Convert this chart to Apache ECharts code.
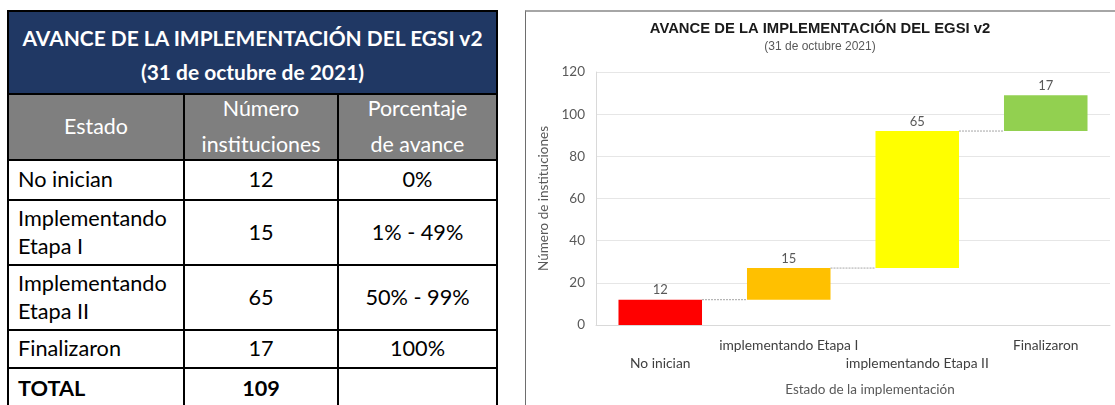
<!DOCTYPE html>
<html>
<head>
<meta charset="utf-8">
<script src="https://cdn.jsdelivr.net/npm/echarts/dist/echarts.min.js"></script>
<style>
html,body{margin:0;padding:0;width:1115px;height:405px;overflow:hidden;background:#fff;}
#tbl{position:absolute;left:0;top:0;width:1115px;height:405px;font-family:Lato,'Open Sans',sans-serif;color:#000;z-index:1;}
.cell{position:absolute;box-sizing:border-box;border:2px solid #000;display:flex;align-items:center;justify-content:center;text-align:center;white-space:nowrap;overflow:visible;}
.cell.l{justify-content:flex-start;text-align:left;padding-left:9px;}
.cell.ttl{background:#203864;color:#fff;font-weight:bold;line-height:32px;padding-top:6px;}
.cell.hd{background:#7f7f7f;color:#fff;line-height:35px;}
.cell.bd{line-height:26px;}
.cell.b{font-weight:bold;}
.fT{font-size:20px;} .fH{font-size:21px;} .fB{font-size:21px;}
#box{position:absolute;left:525px;top:10px;width:620px;height:420px;border-left:1px solid #6e6e6e;border-top:2px solid #a6a6a6;z-index:0;}
#chart{position:absolute;left:0;top:0;width:1115px;height:405px;z-index:2;}
</style>
</head>
<body>
<div id="tbl"></div>
<div id="box"></div>
<div id="chart"></div>
<script>
// ---------- Table data ----------
const tableTitle = ['AVANCE DE LA IMPLEMENTACIÓN DEL EGSI v2', '(31 de octubre de 2021)'];
const tableHeader = [['Estado'], ['Número', 'instituciones'], ['Porcentaje', 'de avance']];
const tableEstado = [['No inician'], ['Implementando', 'Etapa I'], ['Implementando', 'Etapa II'], ['Finalizaron']];
const tableNumero = ['12', '15', '65', '17'];
const tablePorcentaje = ['0%', '1% - 49%', '50% - 99%', '100%'];
const tableTotal = ['TOTAL', '109', ''];

// ---------- Chart data ----------
const categories = ['No inician', 'implementando Etapa I', 'implementando Etapa II', 'Finalizaron'];
const values = [12, 15, 65, 17];
const barColors = ['#FF0000', '#FFC000', '#FFFF00', '#92D050'];
const chartTitle = 'AVANCE DE LA IMPLEMENTACIÓN DEL EGSI v2';
const chartSubtitle = '(31 de octubre 2021)';
const yAxisName = 'Número de instituciones';
const xAxisName = 'Estado de la implementación';

// ---------- Table layout ----------
const colX = [8, 184, 338, 497];
const rowY = [11, 94, 160, 200, 265, 330, 368, 410];
const tbl = document.getElementById('tbl');
function span(arr, cls, refId){
  return arr.map((t, i) => '<span class="' + cls + '"' + (refId && i === 0 ? ' id="' + refId + '"' : '') + '>' + t + '</span>').join('<br>');
}
function addCell(c0, c1, r, cls, content){
  const d = document.createElement('div');
  d.className = 'cell ' + cls;
  d.style.left = (colX[c0] - 1) + 'px';
  d.style.top = (rowY[r] - 1) + 'px';
  d.style.width = (colX[c1] - colX[c0] + 2) + 'px';
  d.style.height = (rowY[r + 1] - rowY[r] + 2) + 'px';
  d.innerHTML = '<div>' + content + '</div>';
  tbl.appendChild(d);
}
addCell(0, 3, 0, 'ttl', '<span class="fT" id="refT">' + tableTitle[0] + '</span><br><span class="fT">' + tableTitle[1] + '</span>');
addCell(0, 1, 1, 'hd', span(tableHeader[0], 'fH'));
addCell(1, 2, 1, 'hd', '<span class="fH">' + tableHeader[1][0] + '</span><br><span class="fH" id="refH">' + tableHeader[1][1] + '</span>');
addCell(2, 3, 1, 'hd', span(tableHeader[2], 'fH'));
for (let i = 0; i < tableEstado.length; i++) {
  addCell(0, 1, i + 2, 'bd l', span(tableEstado[i], 'fB', i === 0 ? 'refB' : null));
  addCell(1, 2, i + 2, 'bd', '<span class="fB">' + tableNumero[i] + '</span>');
  addCell(2, 3, i + 2, 'bd', '<span class="fB">' + tablePorcentaje[i] + '</span>');
}
addCell(0, 1, 6, 'bd l b', '<span class="fB">' + tableTotal[0] + '</span>');
addCell(1, 2, 6, 'bd b', '<span class="fB">' + tableTotal[1] + '</span>');
addCell(2, 3, 6, 'bd b', '<span class="fB">' + tableTotal[2] + '</span>');

function fitGroup(refId, target, cls){
  const ref = document.getElementById(refId);
  const w = ref.getBoundingClientRect().width;
  const cur = parseFloat(getComputedStyle(ref).fontSize);
  const fs = cur * target / w;
  document.querySelectorAll('.' + cls).forEach(e => e.style.fontSize = fs + 'px');
}
function fitAll(){
  fitGroup('refT', 460, 'fT');
  fitGroup('refH', 119, 'fH');
  fitGroup('refB', 95, 'fB');
}
fitAll();
if (document.fonts && document.fonts.ready) document.fonts.ready.then(fitAll);

// ---------- Chart ----------
const bases = [];
let run = 0;
values.forEach(v => { bases.push(run); run += v; });
const tops = values.map((v, i) => bases[i] + v);
const connectors = tops.slice(0, -1).map((t, i) => [i, t]);

const chart = echarts.init(document.getElementById('chart'), null, {renderer: 'canvas'});
const labelFont = 'Lato, "Open Sans", sans-serif';
chart.setOption({
  animation: false,
  backgroundColor: 'transparent',
  grid: {left: 596, right: 5, top: 72, bottom: 80, containLabel: false},
  graphic: [
    {type: 'text', x: 820, y: 29, style: {text: chartTitle, align: 'center', verticalAlign: 'middle', fill: '#1a1a1a', font: 'bold 14.8px "Liberation Sans", Arial, sans-serif'}},
    {type: 'text', x: 820, y: 47, style: {text: chartSubtitle, align: 'center', verticalAlign: 'middle', fill: '#595959', font: '12px "Liberation Sans", Arial, sans-serif'}},
    {type: 'text', x: 870, y: 390, style: {text: xAxisName, align: 'center', verticalAlign: 'middle', fill: '#595959', font: '13.5px ' + labelFont}}
  ],
  xAxis: {
    type: 'category',
    data: categories,
    axisLine: {show: true, lineStyle: {color: '#d9d9d9', width: 1}},
    axisTick: {show: false},
    axisLabel: {
      interval: 0, color: '#404040', fontSize: 13.8, fontFamily: labelFont, lineHeight: 18, margin: 12,
      formatter: (v, i) => (i % 2 === 0 ? '\n' + v : v)
    },
    splitLine: {show: false}
  },
  yAxis: {
    type: 'value', min: 0, max: 120, interval: 20,
    name: yAxisName, nameLocation: 'middle', nameGap: 45,
    nameTextStyle: {color: '#595959', fontSize: 13.5, fontFamily: labelFont},
    axisLine: {show: true, lineStyle: {color: '#d9d9d9', width: 1}},
    axisTick: {show: false},
    axisLabel: {color: '#595959', fontSize: 13.5, fontFamily: labelFont, margin: 11},
    splitLine: {show: true, lineStyle: {color: '#e6e6e6', width: 1}}
  },
  series: [
    {
      name: 'base', type: 'bar', stack: 'w', silent: true, barCategoryGap: '35%',
      itemStyle: {color: 'rgba(0,0,0,0)'},
      data: bases
    },
    {
      name: 'valor', type: 'bar', stack: 'w', barCategoryGap: '35%',
      data: values.map((v, i) => ({value: v, itemStyle: {color: barColors[i]}})),
      label: {show: true, position: 'top', distance: 3, color: '#595959', fontSize: 13, fontFamily: labelFont}
    },
    {
      name: 'conector', type: 'custom', silent: true, z: 5,
      data: connectors,
      renderItem: function (params, api) {
        const p = api.coord([api.value(0), api.value(1)]);
        const band = api.size([1, 0])[0];
        const bw = band * 0.65;
        return {
          type: 'line',
          shape: {x1: p[0] + bw / 2, y1: p[1], x2: p[0] + band - bw / 2, y2: p[1]},
          style: {stroke: '#a6a6a6', lineWidth: 1, lineDash: [2, 1]}
        };
      }
    }
  ]
});
</script>
</body>
</html>
